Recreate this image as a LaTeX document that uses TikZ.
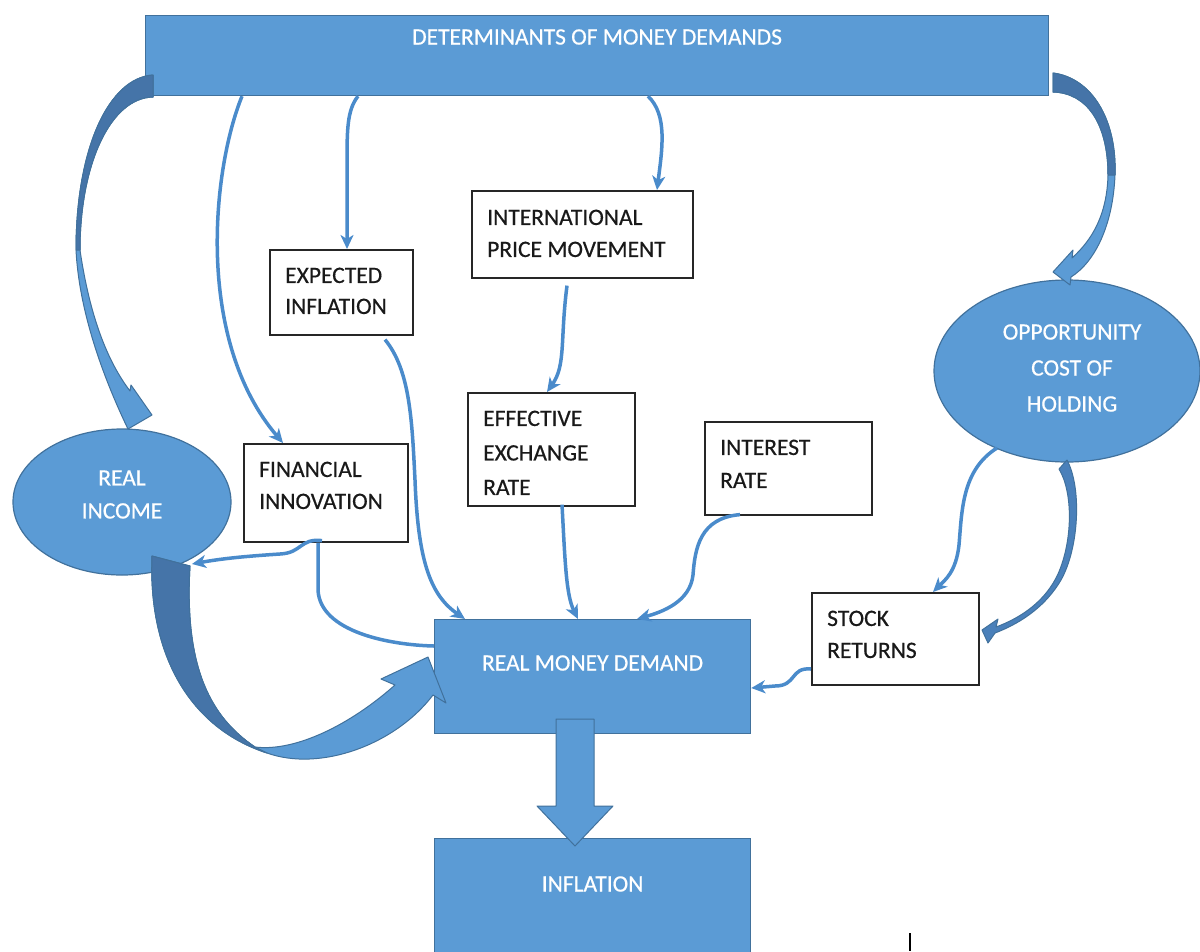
\documentclass[tikz,border=0pt]{standalone}
\usepackage{fontspec}
\setmainfont{Carlito}
\newfontfamily\diagfont{Carlito}[FakeBold=0.5]
\usetikzlibrary{shapes.geometric,arrows.meta,calc}
\definecolor{fillblue}{HTML}{5B9BD5}
\definecolor{edgeblue}{HTML}{41719C}
\definecolor{darkblue}{HTML}{4574A8}
\definecolor{midblue}{HTML}{4A80BA}
\definecolor{lineblue}{HTML}{4A8BCB}
\begin{document}
\begin{tikzpicture}[x=1pt,y=-1pt,
  bluebox/.style={draw=edgeblue, line width=1.2pt, fill=fillblue, anchor=north west, inner sep=0pt},
  wbox/.style={draw=black!85, line width=1.6pt, fill=white, anchor=north west, inner sep=0pt},
  btext/.style={anchor=north west, align=left, inner sep=0pt, text=black!90},
  blueell/.style={draw=edgeblue, line width=1.2pt, fill=fillblue, ellipse, inner sep=0pt},
  wtext/.style={text=white, align=center, inner sep=0pt},
  conn/.style={draw=lineblue, line width=3.5pt, -{Stealth[length=14pt,width=13pt,inset=4pt]}},
  plainline/.style={draw=lineblue, line width=3.5pt},
  band/.style={fill=fillblue, draw=edgeblue, line width=1pt, line join=round},
  bandshade/.style={fill=darkblue, draw=edgeblue, line width=1pt, line join=round},
  bandmid/.style={fill=midblue, draw=edgeblue, line width=1pt, line join=round},
  fs/.style={font=\diagfont\fontsize{23.5}{#1}\selectfont},
]
\useasboundingbox (0,0) rectangle (1200,951);

% ---------- main blue boxes and ellipses ----------
\node[bluebox, minimum width=903pt, minimum height=80pt] (top) at (145,15) {};
\node[wtext, fs=32] (toptitle) at ([yshift=-22pt]top.north) {DETERMINANTS OF MONEY DEMANDS};

\node[blueell, minimum width=218pt, minimum height=146pt] (ri) at (122,502) {};
\node[wtext, fs=33] (ritext) at ([yshift=7.5pt]ri.center) {REAL\\INCOME};

\node[blueell, minimum width=266pt, minimum height=182pt] (opp) at (1067,371) {};
\node[wtext, fs=36] (opptext) at ([xshift=5pt,yshift=3pt]opp.center) {OPPORTUNITY\\COST OF\\HOLDING};

\node[bluebox, minimum width=316pt, minimum height=114pt] (rmd) at (434,619) {};
\node[wtext, fs=32] (rmdtext) at ([yshift=-44pt]rmd.north) {REAL MONEY DEMAND};

\node[bluebox, minimum width=316pt, minimum height=130pt] (infl) at (434,838) {};
\node[wtext, fs=32] (infltext) at ([yshift=-46pt]infl.north) {INFLATION};

% ---------- white boxes ----------
\node[wbox, minimum width=143pt, minimum height=85pt] (exp) at (269,249) {};
\node[btext, fs=31] (exptext) at ([xshift=16pt,yshift=-18.5pt]exp.north west) {EXPECTED\\INFLATION};

\node[wbox, minimum width=221pt, minimum height=87pt] (intl) at (471,190) {};
\node[btext, fs=32] (intltext) at ([xshift=16pt,yshift=-19.5pt]intl.north west) {INTERNATIONAL\\PRICE MOVEMENT};

\node[wbox, minimum width=167pt, minimum height=113pt] (eff) at (467,392) {};
\node[btext, fs=34.5] (efftext) at ([xshift=16pt,yshift=-18.5pt]eff.north west) {EFFECTIVE\\EXCHANGE\\RATE};

\node[wbox, minimum width=167pt, minimum height=93pt] (int) at (704,421) {};
\node[btext, fs=33] (inttext) at ([xshift=16pt,yshift=-18.5pt]int.north west) {INTEREST\\RATE};

\node[wbox, minimum width=164pt, minimum height=98pt] (fin) at (243,443) {};
\node[btext, fs=32] (fintext) at ([xshift=16pt,yshift=-18.5pt]fin.north west) {FINANCIAL\\INNOVATION};

\node[wbox, minimum width=167pt, minimum height=92pt] (stock) at (811,592) {};
\node[btext, fs=32] (stocktext) at ([xshift=16pt,yshift=-18.5pt]stock.north west) {STOCK\\RETURNS};

% ---------- block (curved) arrows ----------
% top box -> real income
\path[band] (153,75) .. controls (108,78) and (76,150) .. (76,250)
  .. controls (79,310) and (102,375) .. (128,429) -- (152,415) -- (131,385) -- (130,391)
  .. controls (108,362) and (90,318) .. (80,250)
  .. controls (80,165) and (110,98) .. (153,97) -- cycle;
\path[bandshade] (153,75) .. controls (108,78) and (76,150) .. (76,250) -- (80,250)
  .. controls (80,165) and (110,98) .. (153,97) -- cycle;

% top box -> opportunity cost
\path[band] (1053,73) .. controls (1092,78) and (1117,120) .. (1115,175)
  .. controls (1113,225) and (1095,262) .. (1071,277) -- (1070,285) -- (1053,272) -- (1073,250) -- (1072,258)
  .. controls (1092,240) and (1107,215) .. (1108,175)
  .. controls (1108,125) and (1088,93) .. (1053,92) -- cycle;
\path[bandshade] (1053,73) .. controls (1092,78) and (1117,120) .. (1115,175) -- (1108,175)
  .. controls (1108,125) and (1088,93) .. (1053,92) -- cycle;

% opportunity cost -> stock returns
\path[bandmid] (1067,460) .. controls (1082,488) and (1079,548) .. (1061,580)
  .. controls (1047,604) and (1024,622) .. (995,633) -- (988,643) -- (982,630) -- (998,619) -- (996,627)
  .. controls (1023,617) and (1046,600) .. (1058,574)
  .. controls (1073,540) and (1073,492) .. (1059,469) -- cycle;

% real income -> real money demand
\path[band] (152,556) .. controls (148,655) and (190,728) .. (267,753)
  .. controls (320,772) and (395,745) .. (433,695)
  -- (446,703) -- (428,657) -- (381,679) -- (395,685)
  .. controls (350,725) and (295,752) .. (255,747)
  .. controls (212,718) and (184,670) .. (190,566) -- cycle;
\path[bandshade] (152,556) .. controls (148,655) and (190,728) .. (267,753) -- (255,747)
  .. controls (212,718) and (184,670) .. (190,566) -- cycle;

% real money demand -> inflation
\path[band] (556,719) -- (594,719) -- (594,806) -- (613,806) -- (575,846) -- (537,806) -- (556,806) -- cycle;

% ---------- thin connectors ----------
\draw[conn] ([xshift=97pt]top.south west) .. controls (212,170) and (195,340) .. ([xshift=40pt]fin.north west);
\draw[conn] ([xshift=213pt]top.south west) .. controls (347,110) and (347,130) .. (347,165) -- ([xshift=78pt]exp.north west);
\draw[conn] ([xshift=503pt]top.south west) .. controls (668,115) and (662,150) .. ([xshift=186pt]intl.north west);
\draw[conn] ([xshift=116pt,yshift=-4pt]exp.south west) .. controls (410,370) and (412,420) .. (415,480)
  .. controls (418,560) and (430,595) .. ([xshift=31pt]rmd.north west);
\draw[conn] ([xshift=96pt,yshift=-7pt]intl.south west) .. controls (560,340) and (566,365) .. ([xshift=80pt]eff.north west);
\draw[conn] ([xshift=95pt,yshift=2pt]eff.south west) .. controls (565,560) and (566,595) .. ([xshift=144pt]rmd.north west);
\draw[conn] ([xshift=36pt,yshift=1pt]int.south west) .. controls (700,518) and (695,548) .. (693,575)
  .. controls (690,602) and (662,612) .. ([xshift=203pt]rmd.north west);
\draw[conn] ([xshift=79pt,yshift=2pt]fin.south west) .. controls (300,538) and (302,553) .. (280,554)
  .. controls (250,556) and (225,558) .. ([xshift=70pt,yshift=-62pt]ri.center);
\draw[plainline] ([xshift=75pt]fin.south west) -- (318,590) .. controls (320,632) and (390,645) .. ([yshift=-27pt]rmd.north west);
\draw[conn] ([yshift=-77pt]stock.north west) .. controls (790,667) and (797,686) .. (775,686) -- ([yshift=-69pt]rmd.north east);
\draw[conn] ([xshift=-70pt,yshift=-77pt]opp.center) .. controls (962,470) and (962,510) .. (959,545)
  .. controls (956,572) and (945,580) .. ([xshift=122pt]stock.north west);

% small mark at bottom right
\draw[black, line width=1.2pt] (910,933) -- (910,951);
\end{tikzpicture}
\end{document}
